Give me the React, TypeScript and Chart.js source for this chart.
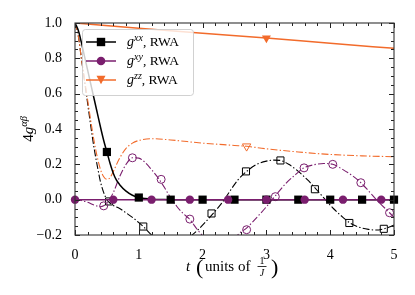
import React, { useEffect, useRef } from 'react';
import { Chart, registerables } from 'chart.js';
Chart.register(...registerables);

const BLACK = '#000000';
const PURPLE = '#7a1e6e';
const ORANGE = '#f26b2b';
const SERIF = '"Liberation Serif", "DejaVu Serif", serif';

// ---------- data ----------
// g^xx, RWA (black solid)
const xxRwaT = [0, 0.05, 0.1, 0.15, 0.2, 0.25, 0.3, 0.35, 0.4, 0.45, 0.5, 0.55, 0.6, 0.65, 0.7, 0.8, 0.9, 1.0, 1.1, 1.2, 1.4, 1.6, 2, 3, 4, 5];
const xxRwaV = [1.0, 0.96, 0.89, 0.81, 0.73, 0.65, 0.57, 0.49, 0.41, 0.335, 0.27, 0.205, 0.15, 0.11, 0.085, 0.048, 0.025, 0.012, 0.006, 0.003, 0.001, 0, 0, 0, 0, 0];
const xxRwaMarkT = [0.5, 1.0, 1.5, 2.0, 2.5, 3.0, 3.5, 4.0, 4.5, 5.0];
const xxRwaMarkV = [0.27, 0.012, 0, 0, 0, 0, 0, 0, 0, 0];

// g^xy, RWA (purple solid)
const xyRwaT = [0, 5];
const xyRwaV = [0, 0];
const xyRwaMarkT = [0, 0.6, 1.2, 1.8, 2.4, 3.0, 3.6, 4.2, 4.8];
const xyRwaMarkV = [0, 0, 0, 0, 0, 0, 0, 0, 0];

// g^zz, RWA (orange solid)
const zzRwaT = [0, 1, 2, 3, 4, 5];
const zzRwaV = [1.0, 0.97, 0.942, 0.915, 0.885, 0.857];
const zzRwaMarkT = [3.0];
const zzRwaMarkV = [0.915];

// g^xx (black dash-dot)
const xxT = [0, 0.05, 0.1, 0.15, 0.2, 0.25, 0.3, 0.35, 0.4, 0.45, 0.5, 0.55, 0.6, 0.7, 0.8, 0.9, 1.0, 1.07, 1.2, 1.35, 1.5, 1.65, 1.8, 1.93, 2.05, 2.16, 2.3, 2.45, 2.55, 2.69, 2.85, 3.0, 3.12, 3.22, 3.35, 3.5, 3.65, 3.78, 3.9, 4.05, 4.2, 4.31, 4.45, 4.6, 4.72, 4.84, 4.95, 5.0];
const xxV = [1.0, 0.93, 0.8, 0.67, 0.54, 0.41, 0.29, 0.19, 0.1, 0.04, 0.0, -0.02, -0.033, -0.05, -0.075, -0.1, -0.13, -0.152, -0.2, -0.24, -0.255, -0.245, -0.21, -0.17, -0.125, -0.08, -0.02, 0.06, 0.11, 0.16, 0.2, 0.218, 0.224, 0.222, 0.2, 0.16, 0.11, 0.059, 0.01, -0.05, -0.1, -0.132, -0.155, -0.168, -0.172, -0.165, -0.152, -0.143];
const xxMarkT = [0.535, 1.07, 2.14, 2.68, 3.22, 3.76, 4.30, 4.84];
const xxMarkV = [-0.01, -0.152, -0.078, 0.16, 0.222, 0.059, -0.132, -0.165];

// g^xy (purple dash-dot)
const xyT = [0, 0.1, 0.2, 0.3, 0.4, 0.45, 0.5, 0.6, 0.7, 0.8, 0.9, 1.0, 1.1, 1.2, 1.31, 1.4, 1.5, 1.6, 1.7, 1.79, 1.93, 2.1, 2.27, 2.45, 2.61, 2.67, 2.8, 3.0, 3.13, 3.3, 3.45, 3.59, 3.75, 3.9, 4.04, 4.2, 4.35, 4.48, 4.6, 4.75, 4.93, 5.0];
const xyV = [0, -0.005, -0.015, -0.03, -0.04, -0.035, -0.02, 0.04, 0.13, 0.2, 0.237, 0.235, 0.21, 0.17, 0.12, 0.07, 0.01, -0.04, -0.08, -0.108, -0.175, -0.24, -0.26, -0.235, -0.18, -0.167, -0.12, -0.04, 0.017, 0.09, 0.14, 0.18, 0.198, 0.205, 0.2, 0.17, 0.135, 0.096, 0.05, -0.01, -0.074, -0.1];
const xyMarkT = [0.45, 0.9, 1.35, 1.8, 2.69, 3.14, 3.59, 4.04, 4.48, 4.93];
const xyMarkV = [-0.035, 0.237, 0.115, -0.11, -0.17, 0.017, 0.18, 0.2, 0.096, -0.074];

// g^zz (orange dash-dot)
const zzT = [0, 0.05, 0.1, 0.15, 0.2, 0.25, 0.3, 0.35, 0.4, 0.45, 0.5, 0.55, 0.6, 0.7, 0.8, 0.9, 1.0, 1.2, 1.5, 2.0, 2.5, 2.69, 3.0, 3.5, 4.0, 4.5, 5.0];
const zzV = [1.0, 0.93, 0.8, 0.68, 0.56, 0.44, 0.33, 0.24, 0.17, 0.13, 0.115, 0.125, 0.16, 0.235, 0.29, 0.32, 0.335, 0.345, 0.338, 0.32, 0.307, 0.302, 0.288, 0.27, 0.256, 0.248, 0.243];
const zzMarkT = [2.69];
const zzMarkV = [0.302];

// axes
const xTicks = [0, 1, 2, 3, 4, 5];
const yTicks = [-0.2, 0, 0.2, 0.4, 0.6, 0.8, 1.0];
const xMinorStep = 0.2;
const yMinorStep = 0.05;

const pts = (t: number[], v: number[]) => t.map((x, i) => ({ x, y: v[i] }));

const DASHDOT = [7, 2.2, 1.4, 2.2];

function rich(ctx: CanvasRenderingContext2D, parts: { t: string; f: string; dy?: number }[], x: number, y: number, measureOnly = false) {
  let cx = x;
  for (const p of parts) {
    ctx.font = p.f;
    if (!measureOnly) ctx.fillText(p.t, cx, y + (p.dy || 0));
    cx += ctx.measureText(p.t).width;
  }
  return cx - x;
}

const decor = {
  id: 'decor',
  afterDraw(chart: any) {
    const { ctx, chartArea: a, scales } = chart;
    const xs = scales.x, ys = scales.y;
    ctx.save();
    // ticks (inward, all four sides)
    ctx.strokeStyle = '#222';
    ctx.lineWidth = 1;
    const tick = (x1: number, y1: number, x2: number, y2: number) => {
      ctx.beginPath(); ctx.moveTo(x1, y1); ctx.lineTo(x2, y2); ctx.stroke();
    };
    for (let i = 0; i <= Math.round(5 / xMinorStep); i++) {
      const v = i * xMinorStep;
      const major = Math.abs(v - Math.round(v)) < 1e-6;
      const L = major ? 5 : 3;
      const px = Math.round(xs.getPixelForValue(v)) + 0.5;
      tick(px, a.bottom, px, a.bottom - L);
      tick(px, a.top, px, a.top + L);
    }
    for (let i = 0; i <= Math.round(1.2 / yMinorStep); i++) {
      const v = -0.2 + i * yMinorStep;
      const major = Math.abs(v / 0.2 - Math.round(v / 0.2)) < 1e-6;
      const L = major ? 5 : 3;
      const py = Math.round(ys.getPixelForValue(v)) + 0.5;
      tick(a.left, py, a.left + L, py);
      tick(a.right, py, a.right - L, py);
    }
    // frame
    ctx.strokeStyle = '#333';
    ctx.lineWidth = 1.1;
    ctx.strokeRect(a.left, a.top, a.right - a.left, a.bottom - a.top);

    // legend
    const lx = 82, ly = 29, lw = 111, lh = 66;
    ctx.beginPath();
    if ((ctx as any).roundRect) (ctx as any).roundRect(lx + 0.5, ly + 0.5, lw, lh, 3); else ctx.rect(lx + 0.5, ly + 0.5, lw, lh);
    ctx.fillStyle = 'rgba(255,255,255,0.8)';
    ctx.fill();
    ctx.strokeStyle = 'rgba(204,204,204,0.9)';
    ctx.lineWidth = 1;
    ctx.stroke();
    const rows = [
      { c: BLACK, sup: 'xx', m: 'sq', y: 42 },
      { c: PURPLE, sup: 'xy', m: 'ci', y: 61 },
      { c: ORANGE, sup: 'zz', m: 'tri', y: 80 },
    ];
    for (const r of rows) {
      ctx.strokeStyle = r.c; ctx.lineWidth = 1.5;
      ctx.beginPath(); ctx.moveTo(86, r.y); ctx.lineTo(116, r.y); ctx.stroke();
      ctx.fillStyle = r.c;
      ctx.beginPath();
      if (r.m === 'sq') ctx.rect(101 - 4.2, r.y - 4.2, 8.4, 8.4);
      else if (r.m === 'ci') ctx.arc(101, r.y, 4.3, 0, Math.PI * 2);
      else { ctx.moveTo(101 - 4.5, r.y - 4.2); ctx.lineTo(101 + 4.5, r.y - 4.2); ctx.lineTo(101, r.y + 4.2); ctx.closePath(); }
      ctx.fill();
      ctx.fillStyle = '#000';
      ctx.textBaseline = 'alphabetic';
      ctx.textAlign = 'left';
      rich(ctx, [
        { t: 'g', f: `italic 14px ${SERIF}` },
        { t: r.sup, f: `italic 10px ${SERIF}`, dy: -5.5 },
        { t: ',', f: `13.5px ${SERIF}` },
        { t: ' RWA', f: `13.5px ${SERIF}` },
      ], 127, r.y + 4);
    }

    // y label
    ctx.save();
    ctx.translate(29, (a.top + a.bottom) / 2);
    ctx.rotate(-Math.PI / 2);
    const yParts = [
      { t: '4', f: `15px ${SERIF}` },
      { t: 'g', f: `italic 15px ${SERIF}` },
      { t: 'αβ', f: `italic 10.5px ${SERIF}`, dy: -6 },
    ];
    const yw = rich(ctx, yParts, 0, 0, true);
    ctx.fillStyle = '#000';
    rich(ctx, yParts, -yw / 2, 4);
    ctx.restore();

    // x label
    ctx.fillStyle = '#000';
    const base = 271;
    ctx.font = `italic 15px ${SERIF}`;
    ctx.fillText('t', 186, base);
    ctx.font = `22px ${SERIF}`;
    ctx.fillText('(', 196, base + 3);
    ctx.font = `15px ${SERIF}`;
    ctx.fillText('units of', 205, base);
    ctx.textAlign = 'center';
    ctx.font = `10px ${SERIF}`;
    ctx.fillText('1', 262, base - 7);
    ctx.strokeStyle = '#000'; ctx.lineWidth = 0.8;
    ctx.beginPath(); ctx.moveTo(257.5, base - 4.5); ctx.lineTo(266.5, base - 4.5); ctx.stroke();
    ctx.font = `italic 10px ${SERIF}`;
    ctx.fillText('J', 262, base + 5);
    ctx.textAlign = 'left';
    ctx.font = `22px ${SERIF}`;
    ctx.fillText(')', 271, base + 3);
    ctx.restore();
  },
};

export default function App() {
  const ref = useRef<HTMLCanvasElement | null>(null);
  useEffect(() => {
    if (!ref.current) return;
    const lineDs = (label: string, t: number[], v: number[], color: string, dashed: boolean, order: number) => ({
      label,
      data: pts(t, v),
      borderColor: color,
      backgroundColor: color,
      borderWidth: dashed ? 1.1 : 1.5,
      borderDash: dashed ? DASHDOT : [],
      pointRadius: 0,
      cubicInterpolationMode: 'monotone' as const,
      fill: false,
      clip: 0,
      order,
    });
    const markDs = (label: string, t: number[], v: number[], color: string, style: string, radius: number, filled: boolean, order: number, rotation = 0, clip: any = 0) => ({
      label,
      data: pts(t, v),
      showLine: false,
      borderColor: color,
      backgroundColor: color,
      pointStyle: style,
      pointRadius: radius,
      pointRotation: rotation,
      pointBackgroundColor: filled ? color : 'rgba(0,0,0,0)',
      pointBorderColor: color,
      pointBorderWidth: filled ? 0 : 1,
      clip,
      order,
    });
    const chart = new Chart(ref.current, {
      type: 'line',
      data: {
        datasets: [
          lineDs('xx', xxT, xxV, BLACK, true, 30),
          lineDs('xy', xyT, xyV, PURPLE, true, 29),
          lineDs('zz', zzT, zzV, ORANGE, true, 28),
          markDs('xx open', xxMarkT, xxMarkV, BLACK, 'rect', 5.0, false, 27),
          markDs('xy open', xyMarkT, xyMarkV, PURPLE, 'circle', 4.0, false, 26),
          markDs('zz open', zzMarkT, zzMarkV, ORANGE, 'triangle', 4.8, false, 25, 180),
          lineDs('xx RWA', xxRwaT, xxRwaV, BLACK, false, 20),
          lineDs('xy RWA', xyRwaT, xyRwaV, PURPLE, false, 19),
          lineDs('zz RWA', zzRwaT, zzRwaV, ORANGE, false, 18),
          markDs('xx RWA m', xxRwaMarkT, xxRwaMarkV, BLACK, 'rect', 5.8, true, 12, 0, { left: 0, right: 5, top: 0, bottom: 0 }),
          markDs('xy RWA m', xyRwaMarkT, xyRwaMarkV, PURPLE, 'circle', 4.2, true, 11, 0, { left: 5, right: 5, top: 0, bottom: 0 }),
          markDs('zz RWA m', zzRwaMarkT, zzRwaMarkV, ORANGE, 'triangle', 5.2, true, 10, 180),
        ] as any,
      },
      options: {
        animation: false,
        responsive: false,
        maintainAspectRatio: false,
        events: [],
        layout: { padding: { left: 0, right: 21, top: 23, bottom: 0 } },
        plugins: { legend: { display: false }, tooltip: { enabled: false } },
        scales: {
          x: {
            type: 'linear',
            min: 0,
            max: 5,
            grid: { display: false },
            border: { display: false },
            afterBuildTicks: (s: any) => { s.ticks = xTicks.map((value) => ({ value })); },
            afterFit: (s: any) => { s.height = 60; },
            ticks: {
              color: '#000',
              padding: 4,
              maxRotation: 0,
              autoSkip: false,
              font: { family: SERIF, size: 14 },
              callback: (v: any) => String(v),
            },
          },
          y: {
            type: 'linear',
            min: -0.2,
            max: 1.0,
            grid: { display: false },
            border: { display: false },
            afterBuildTicks: (s: any) => { s.ticks = yTicks.map((value) => ({ value })); },
            afterFit: (s: any) => { s.width = 75; },
            ticks: {
              color: '#000',
              padding: 5,
              autoSkip: false,
              font: { family: SERIF, size: 14 },
              callback: (v: any) => {
                const n = Number(v);
                if (Math.abs(n) < 1e-9) return '0.0';
                return n < 0 ? '\u2212' + Math.abs(n).toFixed(1) : n.toFixed(1);
              },
            },
          },
        },
      } as any,
      plugins: [decor],
    });
    return () => chart.destroy();
  }, []);
  return (
    <div style={{ position: 'fixed', left: 0, top: 0, width: 415, height: 295, background: '#fff' }}>
      <canvas ref={ref} width={415} height={295} style={{ display: 'block', width: 415, height: 295 }} />
    </div>
  );
}
